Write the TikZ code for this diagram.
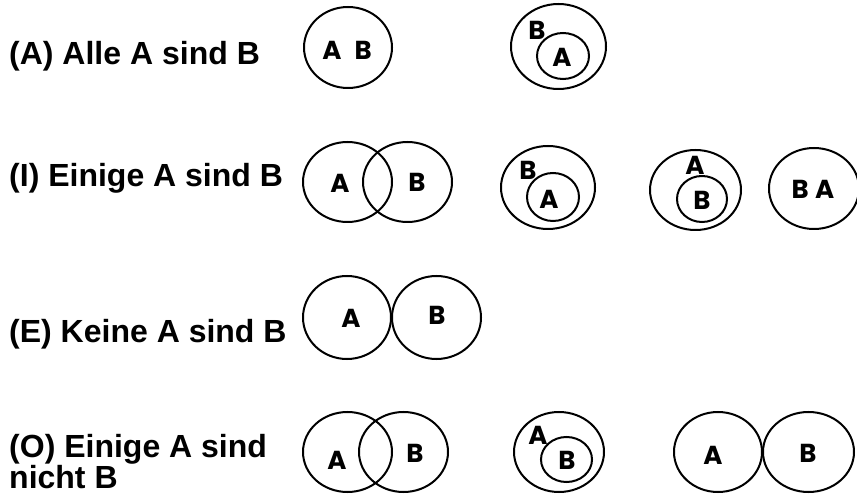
\documentclass[tikz,border=0pt]{standalone}
\usepackage{fontspec}
\setmainfont{Liberation Sans}
\newfontfamily\geo{Poppins}
\usetikzlibrary{shapes.geometric}
\tikzset{
  set/.style={draw=black, line width=2pt, ellipse, inner sep=0pt, outer sep=0pt},
  lab/.style={inner sep=0pt, font=\geo\bfseries\fontsize{26}{26}\selectfont},
  title/.style={inner sep=0pt, anchor=base west, font=\bfseries\fontsize{32}{34}\selectfont}
}
\newcommand{\myell}[5]{\node[set, minimum width=#4pt, minimum height=#5pt] (#1) at (#2,#3) {};}
\begin{document}
\begin{tikzpicture}[x=1pt,y=-1pt]
\useasboundingbox (0,0) rectangle (857,494);
% titles
\node[title] (tA) at (9,65) {(A) Alle A sind B};
\node[title] (tI) at (9,187) {(I) Einige A sind B};
\node[title] (tE) at (9,342) {(E) Keine A sind B};
\node[title] (tO1) at (9,457) {(O) Einige A sind};
\node[title] (tO2) at (9,488) {nicht B};
% Row A
\myell{a1}{348}{47.5}{88}{81}
\node[lab] (a1t) at (347,50) {A\hspace{0.5em}B};
\myell{a2o}{558.5}{46.5}{95}{85}
\myell{a2i}{563}{56}{52}{46}
\node[lab] (a2b) at (537,30) {B};
\node[lab] (a2a) at (562,57) {A};
% Row I
\myell{i1l}{347.5}{182}{89}{80}
\myell{i1r}{407.5}{182}{89}{80}
\node[lab] (i1a) at (340,183) {A};
\node[lab] (i1b) at (417,182) {B};
\myell{i2o}{548}{187.5}{94}{83}
\myell{i2i}{553}{197}{52}{48}
\node[lab] (i2b) at (528,170) {B};
\node[lab] (i2a) at (549,199) {A};
\myell{i3o}{695.5}{190}{91}{80}
\myell{i3i}{702}{199}{50}{46}
\node[lab] (i3a) at (695,165) {A};
\node[lab] (i3b) at (702,200) {B};
\myell{i4}{814}{188.5}{90}{81}
\node[lab] (i4t) at (813,189) {B\hspace{0.25em}A};
% Row E
\myell{el}{347}{317.5}{88}{83}
\myell{er}{436.5}{317.5}{89}{83}
\node[lab] (ea) at (351,318) {A};
\node[lab] (eb) at (437,315) {B};
% Row O
\myell{o1l}{347.5}{452}{89}{80}
\myell{o1r}{403.5}{452}{89}{80}
\node[lab] (o1a) at (337,460) {A};
\node[lab] (o1b) at (415,453) {B};
\myell{o2o}{559}{452}{90}{80}
\myell{o2i}{566.5}{459.5}{51}{45}
\node[lab] (o2a) at (538,435) {A};
\node[lab] (o2b) at (567,460) {B};
\myell{o3l}{718}{452}{88}{80}
\myell{o3r}{808.5}{452}{91}{80}
\node[lab] (o3a) at (713,455) {A};
\node[lab] (o3b) at (808,453) {B};
\end{tikzpicture}
\end{document}
